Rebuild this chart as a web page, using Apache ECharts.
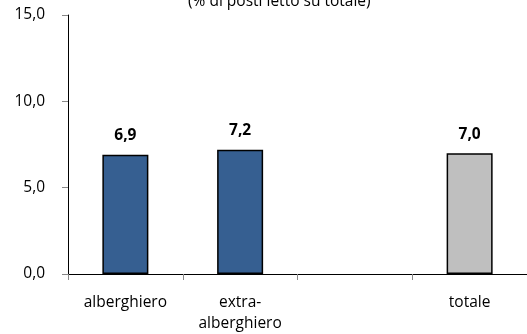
<!DOCTYPE html>
<html>
<head>
<meta charset="utf-8">
<script src="https://cdn.jsdelivr.net/npm/echarts@6/dist/echarts.min.js"></script>
<style>
  html, body { margin: 0; padding: 0; background: #fff; }
  #chart { width: 527px; height: 334px; }
</style>
</head>
<body>
<div id="chart"></div>
<script>
// dati
const categories = ['alberghiero', 'extra-\nalberghiero', '', 'totale']
const values = [6.9, 7.2, null, 7.0]
const barColors = ['#365F91', '#365F91', '#365F91', '#BFBFBF']
const yTicks = [0, 5, 10, 15]

const fmt = v => v.toFixed(1).replace('.', ',')
const font = '"Open Sans", "Noto Sans", sans-serif'

const myChart = echarts.init(document.getElementById('chart'))

const option = {
  animation: false,
  backgroundColor: '#fff',
  textStyle: { fontFamily: font },
  graphic: [{
    type: 'text',
    left: 188,
    top: -6,
    style: {
      text: '(% di posti letto su totale)',
      font: '15.5px ' + font,
      fill: '#000'
    }
  }],
  grid: { left: 68, right: -7, top: 15, bottom: 58 },
  xAxis: {
    type: 'category',
    data: categories,
    axisLine: { lineStyle: { color: '#000', width: 1 } },
    axisTick: { show: true, length: 6, lineStyle: { color: '#888' } },
    axisLabel: { color: '#000', fontSize: 15.5, margin: 18, lineHeight: 21, interval: 0 }
  },
  yAxis: {
    type: 'value',
    min: yTicks[0],
    max: yTicks[yTicks.length - 1],
    interval: 5,
    axisLine: { show: true, lineStyle: { color: '#000', width: 1 } },
    axisTick: { show: true, length: 6, lineStyle: { color: '#888' } },
    splitLine: { show: false },
    axisLabel: { color: '#000', fontSize: 15.5, margin: 23, formatter: v => fmt(v) }
  },
  series: [{
    type: 'bar',
    barWidth: 46,
    data: values.map((v, i) => ({
      value: v,
      itemStyle: { color: barColors[i], borderColor: '#000', borderWidth: 1.5 }
    })),
    label: {
      show: true,
      position: 'top',
      distance: 11,
      fontSize: 15.5,
      fontWeight: 'bold',
      color: '#000',
      formatter: p => p.value == null ? '' : fmt(p.value)
    }
  }]
}

myChart.setOption(option)
</script>
</body>
</html>
